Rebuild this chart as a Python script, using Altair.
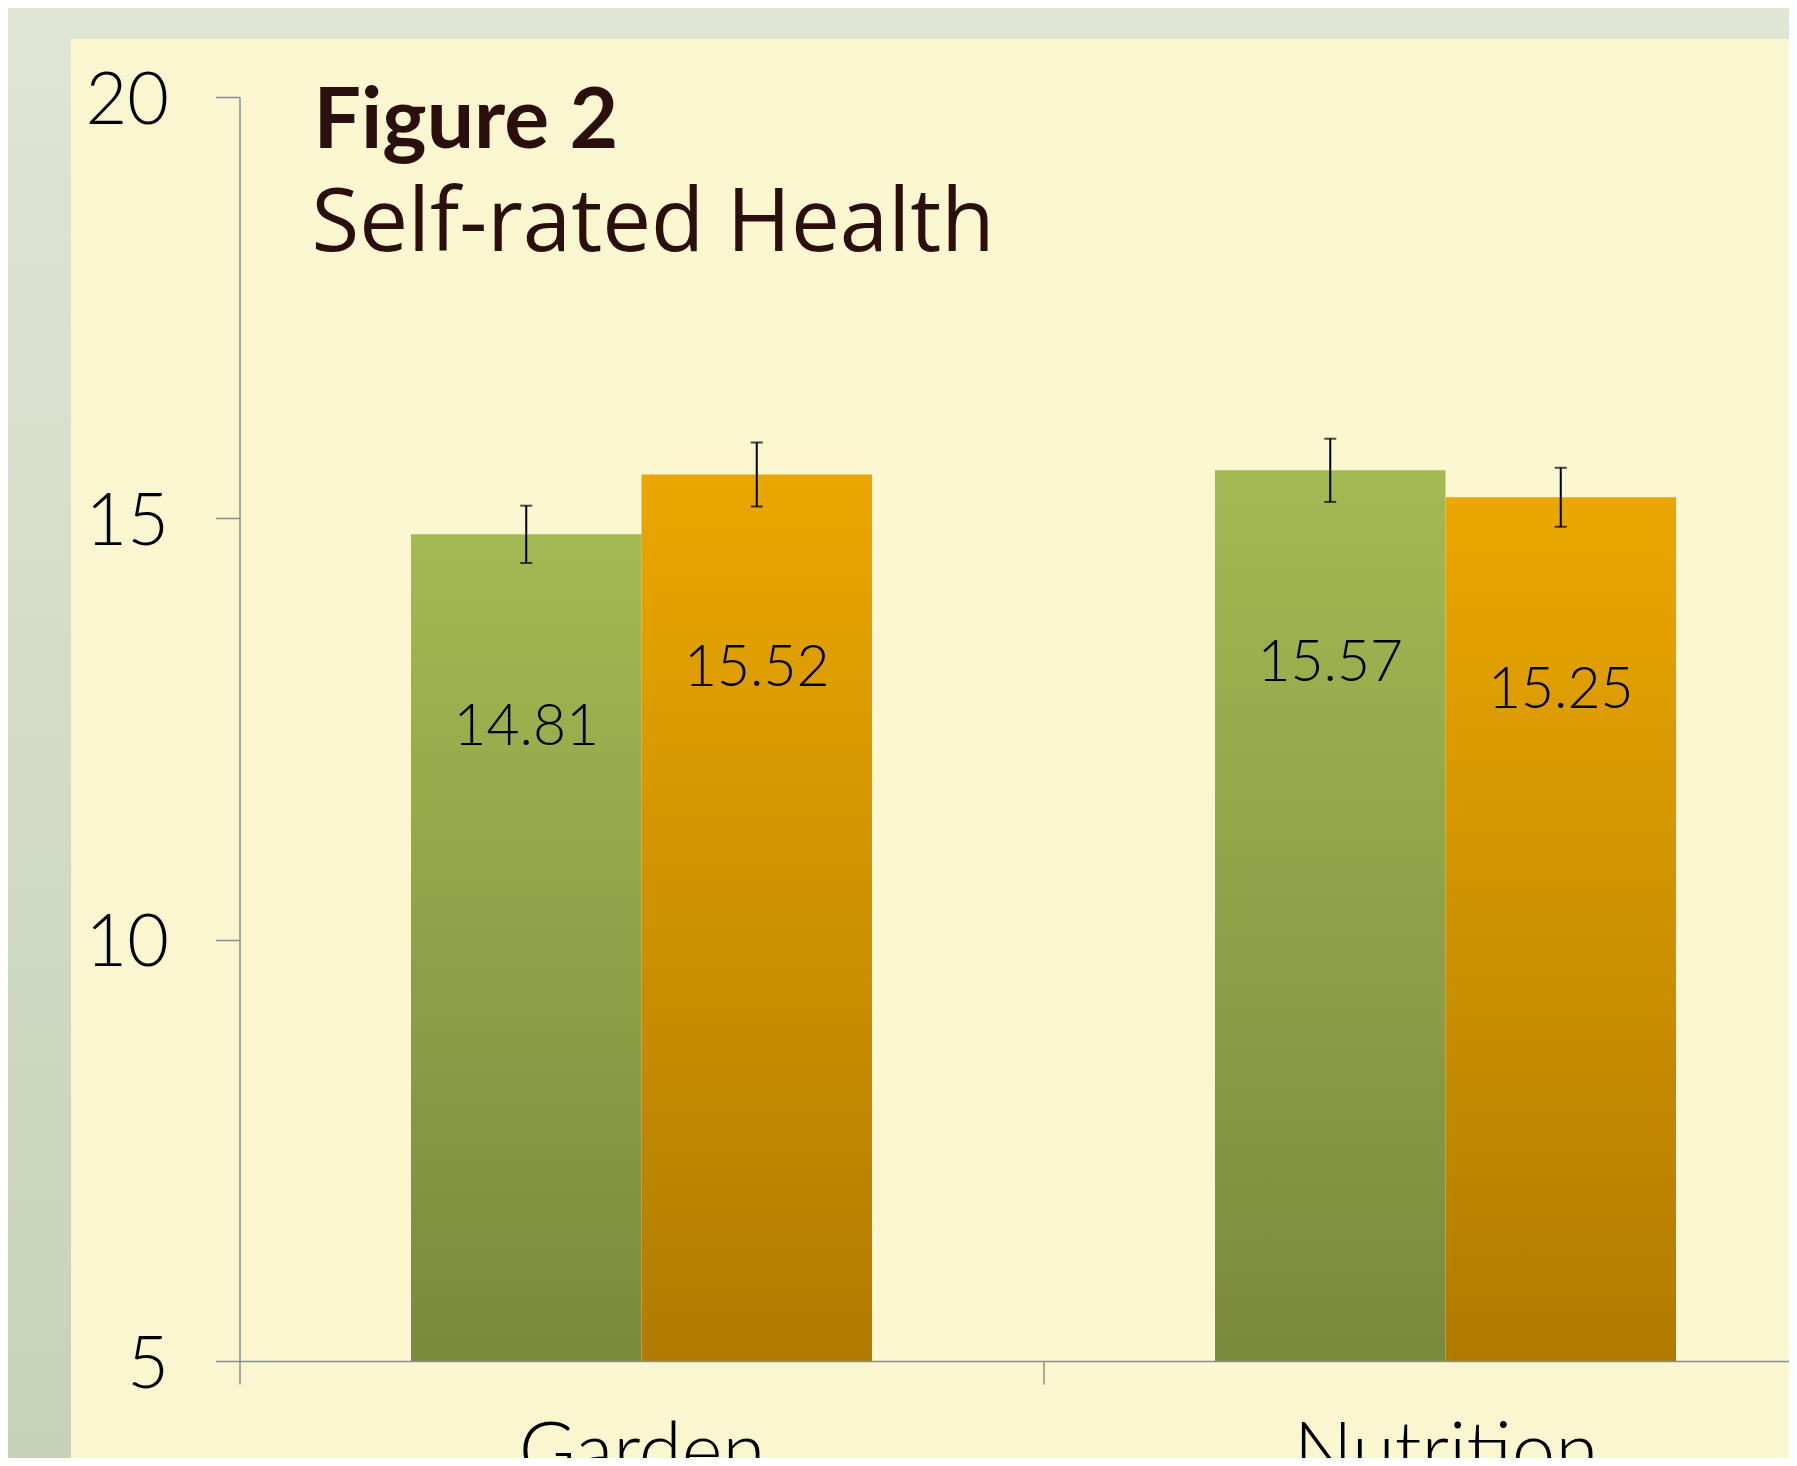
import altair as alt
import pandas as pd

# ---- data ----
categories = ["Garden", "Nutrition"]
groups = ["Group A", "Group B"]
group_a_means = [14.81, 15.57]
group_b_means = [15.52, 15.25]
group_a_err = [0.34, 0.375]
group_b_err = [0.38, 0.35]
y_ticks = [5, 10, 15, 20]
title_text = "Figure 2"
subtitle_text = "Self-rated Health"

rows = []
for g, means, errs in [("Group A", group_a_means, group_a_err),
                       ("Group B", group_b_means, group_b_err)]:
    for c, m, e in zip(categories, means, errs):
        rows.append({"category": c, "group": g, "value": m, "err": e,
                     "label": f"{m:.2f}"})
df = pd.DataFrame(rows)

# ---- layout ----
PAD_LEFT = 231.5
PAD_TOP = 89
PLOT_H = 1264
TOTAL_W = 1781
TOTAL_H = 1450
PLOT_W = TOTAL_W - PAD_LEFT
PAD_BOTTOM = TOTAL_H - PAD_TOP - PLOT_H
BAND_RANGE = 1608

FONT = "Lato"
AXIS_GRAY = "#8E8E8E"

x_enc = alt.X(
    "category:N",
    sort=categories,
    scale=alt.Scale(domain=categories, range=[0, BAND_RANGE],
                    paddingInner=0, paddingOuter=0),
    axis=alt.Axis(title=None, labelAngle=0, tickBand="extent", zindex=1,
                  domainColor=AXIS_GRAY, domainWidth=1.5,
                  tickColor=AXIS_GRAY, tickWidth=1.5, tickSize=23,
                  labelFont=FONT, labelFontSize=78, labelFontWeight=300,
                  labelColor="black",
                  labelPadding=31, labelBaseline="top", labelLimit=2000),
)
xoff_enc = alt.XOffset(
    "group:N", sort=groups,
    scale=alt.Scale(domain=groups, paddingInner=0, paddingOuter=0.744),
)
y_scale = alt.Scale(domain=[5, 20], nice=False, zero=False)
y_enc = alt.Y(
    "value:Q", scale=y_scale,
    axis=alt.Axis(title=None, values=y_ticks, format="d", grid=False,
                  zindex=1,
                  domainColor=AXIS_GRAY, domainWidth=1.5,
                  tickColor=AXIS_GRAY, tickWidth=1.5, tickSize=24,
                  labelFont=FONT, labelFontSize=72, labelFontWeight=300,
                  labelColor="black",
                  labelPadding=47, labelOffset=4),
)

def grad(top, bottom):
    return alt.Gradient(
        gradient="linear",
        stops=[alt.GradientStop(color=top, offset=0),
               alt.GradientStop(color=bottom, offset=1)],
        x1=0, x2=0, y1=0, y2=1,
    )

one = pd.DataFrame({"d": [0]})

outer = alt.Chart(one).mark_rect(color=grad("#E0E5D5", "#C7D2B6")).encode(
    x=alt.value(-PAD_LEFT - 10), x2=alt.value(PLOT_W + 10),
    y=alt.value(-PAD_TOP - 10), y2=alt.value(PLOT_H + PAD_BOTTOM + 10),
)
panel = alt.Chart(one).mark_rect(color="#F9F6D0").encode(
    x=alt.value(71 - 8 - PAD_LEFT), x2=alt.value(PLOT_W + 10),
    y=alt.value(39 - 8 - PAD_TOP), y2=alt.value(PLOT_H + PAD_BOTTOM + 10),
)

base = alt.Chart(df)

bars_a = base.transform_filter(alt.datum.group == "Group A").mark_bar(
    color=grad("#A4B954", "#7A8A3B")
).encode(x=x_enc, xOffset=xoff_enc, y=y_enc, y2=alt.datum(5))

bars_b = base.transform_filter(alt.datum.group == "Group B").mark_bar(
    color=grad("#EBA700", "#B17B00")
).encode(x=x_enc, xOffset=xoff_enc, y=y_enc, y2=alt.datum(5))

err_base = base.transform_calculate(
    lo="datum.value - datum.err", hi="datum.value + datum.err"
)
err_rule = err_base.mark_rule(color="black", strokeWidth=2).encode(
    x=x_enc, xOffset=xoff_enc,
    y=alt.Y("lo:Q", scale=y_scale), y2="hi:Q",
)
cap_lo = err_base.mark_tick(color="black", thickness=2, size=12,
                            orient="horizontal").encode(
    x=x_enc, xOffset=xoff_enc, y=alt.Y("lo:Q", scale=y_scale),
)
cap_hi = err_base.mark_tick(color="black", thickness=2, size=12,
                            orient="horizontal").encode(
    x=x_enc, xOffset=xoff_enc, y=alt.Y("hi:Q", scale=y_scale),
)

labels = base.mark_text(font=FONT, fontSize=57, fontWeight=300,
                        color="black", baseline="middle", align="center",
                        dy=194).encode(
    x=x_enc, xOffset=xoff_enc, y=alt.Y("value:Q", scale=y_scale),
    text="label:N",
)

title = alt.Chart(pd.DataFrame({"t": [title_text]})).mark_text(
    align="left", baseline="alphabetic", font=FONT, fontSize=84,
    fontWeight="bold", color="#2B0E0E",
).encode(x=alt.value(74), y=alt.value(51), text="t:N")

subtitle = alt.Chart(pd.DataFrame({"t": [subtitle_text]})).mark_text(
    align="left", baseline="alphabetic", font="Open Sans", fontSize=87,
    color="#2B0E0E",
).encode(x=alt.value(72), y=alt.value(154), text="t:N")

chart = alt.layer(
    outer, panel, bars_a, bars_b, err_rule, cap_lo, cap_hi, labels,
    title, subtitle,
).properties(
    width=PLOT_W,
    height=PLOT_H,
    autosize=alt.AutoSizeParams(type="none"),
    padding={"left": PAD_LEFT, "top": PAD_TOP, "right": 0,
             "bottom": PAD_BOTTOM},
    background="#DFE4D3",
).configure_view(strokeWidth=0)

chart.save("out.html", embed_options={"renderer": "svg", "actions": False})
